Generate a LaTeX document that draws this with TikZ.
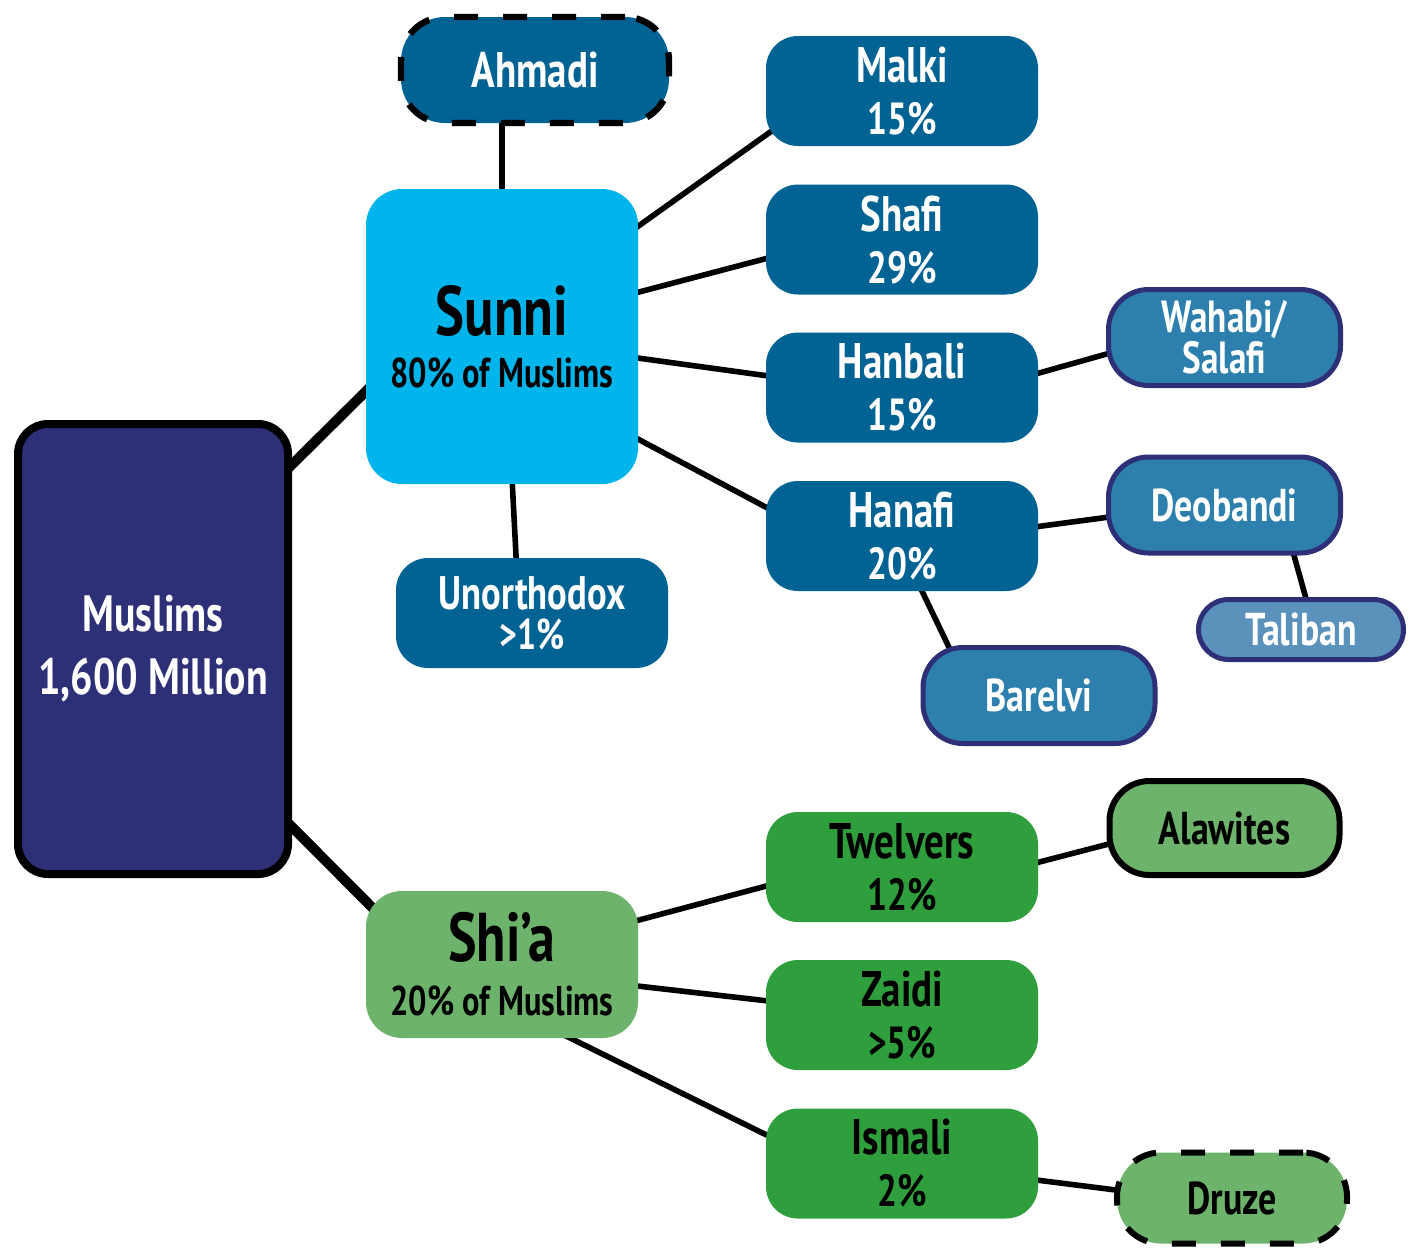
\documentclass[tikz,border=0pt]{standalone}
\usepackage{fontspec}
\setmainfont{PT Sans}[FakeStretch=0.78]
\usepackage{tikz}
\usetikzlibrary{positioning, backgrounds}
\usepackage{xcolor}
\definecolor{SectNavy}{HTML}{2E3077}
\definecolor{SectCyan}{HTML}{00B5EC}
\definecolor{SectBlue}{HTML}{006394}
\definecolor{SectMidBlue}{HTML}{2D80AD}
\definecolor{SectLightBlue}{HTML}{5A92BC}
\definecolor{SectLightGreen}{HTML}{6DB36B}
\definecolor{SectGreen}{HTML}{2F9E3D}
\newcommand{\pctline}[2]{{\fontsize{#1}{#1}\selectfont #2}}
\tikzset{
    % Box styles
    root/.style={
        rectangle,
        rounded corners=15pt,
        draw=black,
        fill=SectNavy,
        line width=4pt,
        minimum width=135pt,
        minimum height=225pt,
        align=center,
        text=white,
        font=\fontsize{25.5}{31.5}\selectfont\bfseries
    },
    branch/.style={
        rectangle,
        rounded corners=18pt,
        minimum width=136pt,
        align=center,
        text=black,
        inner sep=0pt
    },
    school/.style={
        rectangle,
        rounded corners=16pt,
        fill=SectBlue,
        minimum width=136pt,
        minimum height=55pt,
        align=center,
        text=white,
        inner sep=0pt,
        font=\fontsize{25}{26}\selectfont\bfseries
    },
    greenschool/.style={
        school,
        fill=SectGreen,
        text=black
    },
    movement/.style={
        rectangle,
        rounded corners=20pt,
        draw=SectNavy,
        fill=SectMidBlue,
        line width=2.5pt,
        minimum width=116pt,
        minimum height=48pt,
        align=center,
        text=white,
        inner sep=0pt,
        font=\fontsize{23}{21}\selectfont\bfseries
    },
    offshoot/.style={
        rectangle,
        rounded corners=20pt,
        draw=black,
        fill=SectLightGreen,
        line width=3pt,
        minimum width=115pt,
        minimum height=47pt,
        align=center,
        text=black,
        inner sep=0pt,
        font=\fontsize{23}{21}\selectfont\bfseries
    },
    fringe/.style={
        dash pattern=on 12pt off 12.5pt
    },
    % Connector styles
    link/.style={
        line width=2.8pt,
        draw=black,
        shorten <=-6pt,
        shorten >=-6pt
    },
    thicklink/.style={
        link,
        line width=5pt
    }
}

\begin{document}
\begin{tikzpicture}[x=0.5pt, y=-0.5pt]
    \useasboundingbox (0,0) rectangle (1416,1249);

    \node[root] (muslims) at (153,649) {Muslims\\1,600 Million};

    % Sunni side
    \node[branch, fill=SectCyan, minimum height=147.5pt,
          font=\fontsize{35}{26}\selectfont\bfseries] (sunni) at (502,336.5)
          {Sunni\\\pctline{20.8}{80\% of Muslims}};

    \node[school, fringe, draw=black, line width=3.2pt, minimum width=134pt, minimum height=53pt,
          rounded corners=22pt] (ahmadi) at (535,70) {Ahmadi};

    \node[school] (malki) at (902,91) {Malki\\\pctline{22.5}{15\%}};
    \node[school] (shafi) at (902,239.5) {Shafi\\\pctline{22.5}{29\%}};
    \node[school] (hanbali) at (902,387.5) {Hanbali\\\pctline{22.5}{15\%}};
    \node[school] (hanafi) at (902,536) {Hanafi\\\pctline{22.5}{20\%}};

    \node[school, font=\fontsize{23.5}{20}\selectfont\bfseries] (unorthodox) at (532,613)
          {Unorthodox\\\pctline{21.5}{>1\%}};

    \node[movement, font=\fontsize{22.5}{20.5}\selectfont\bfseries] (wahabi) at (1224.5,337.5) {Wahabi/\\Salafi};
    \node[movement] (deobandi) at (1224.5,505) {Deobandi};
    \node[movement, fill=SectLightBlue, minimum width=102.5pt, minimum height=30pt,
          rounded corners=15pt] (taliban) at (1301,629.5) {Taliban};
    \node[movement] (barelvi) at (1039,695.5) {Barelvi};

    % Shi'a side
    \node[branch, fill=SectLightGreen, minimum height=73.5pt,
          font=\fontsize{34.5}{27}\selectfont\bfseries] (shia) at (502,964.5)
          {Shi’a\\\pctline{20.8}{20\% of Muslims}};

    \node[greenschool] (twelvers) at (902,867) {Twelvers\\\pctline{22.5}{12\%}};
    \node[greenschool] (zaidi) at (902,1015) {Zaidi\\\pctline{22.5}{>5\%}};
    \node[greenschool] (ismali) at (902,1163.5) {Ismali\\\pctline{22.5}{2\%}};

    \node[offshoot] (alawites) at (1224.5,828) {Alawites};
    \node[offshoot, fringe, minimum height=45.5pt, rounded corners=22pt] (druze) at (1232,1198) {Druze};

    \begin{scope}[on background layer]
        \draw[thicklink] (muslims.53.7) -- (sunni.-158.5);
        \draw[thicklink] (muslims.-52) -- (shia.155.7);

        \draw[link] (sunni.north) -- (sunni.north |- ahmadi.south);
        \draw[link] (sunni.39.6) -- (malki.-162.5);
        \draw[link] (sunni.18) -- (shafi.188.6);
        \draw[link] (sunni.-9) -- (hanbali.175);
        \draw[link] (sunni.-37) -- (hanafi.168);
        \draw[link] (sunni.-86.5) -- (unorthodox.106);

        \draw[link] (hanbali.6) -- (wahabi.-172);
        \draw[link] (hanafi.4) -- (deobandi.-174);
        \draw[link] (deobandi.-36) -- (taliban.82);
        \draw[link] (hanafi.-70) -- (barelvi.151);

        \draw[link] (shia.18) -- (twelvers.188);
        \draw[link] (shia.-9) -- (zaidi.174.5);
        \draw[link] (shia.-47) -- (ismali.168);
        \draw[link] (twelvers.2) -- (alawites.-172);
        \draw[link] (ismali.-7) -- (druze.176);
    \end{scope}
\end{tikzpicture}
\end{document}
